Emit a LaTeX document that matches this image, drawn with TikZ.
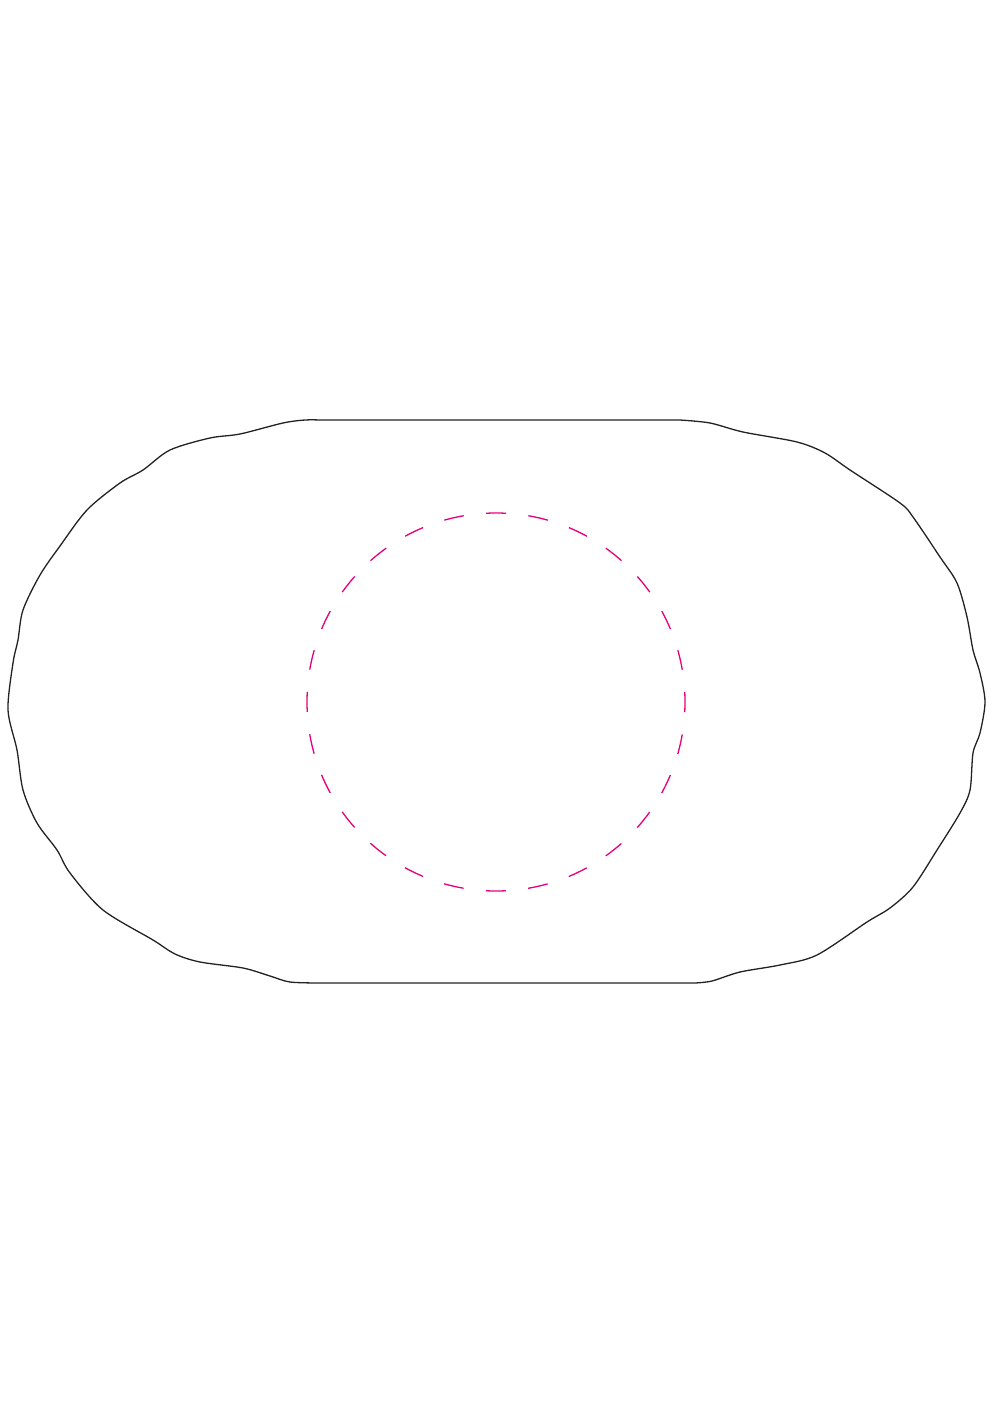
\documentclass[tikz,border=0pt]{standalone}
\definecolor{outl}{HTML}{222222}
\definecolor{mag}{HTML}{E6007E}
\begin{document}
\begin{tikzpicture}[x=1pt,y=-1pt,
  outline/.style={draw=outl,line width=1.3pt,line join=round},
  ring/.style={draw=mag,line width=1.3pt,dash pattern=on 20pt off 22.41pt,dash phase=10pt}]
\useasboundingbox (0,0) rectangle (993,1404);
\draw[outline] (320,420) -- (680,420)
 -- plot[smooth,tension=0.5] coordinates {
 (680,420) (710,423) (743,432) (797,442) (825,453) (850,470) (900,503) (913,517)
 (940,557) (957,583) (967,617) (973,650) (980,673) (985,702)
 (980,733) (973,753) (970,790) (960,813) (937,850) (913,887)
 (890,908) (867,922) (817,955) (780,965) (740,972) (712,981) (695,983)}
 -- (320,983)
 -- plot[smooth,tension=0.5] coordinates {
 (320,983) (290,982) (270,976) (243,968) (200,962) (175,954) (153,940) (103,910)
 (70,873) (57,850) (37,823) (23,790) (17,750) (8,710)
 (13,663) (18,640) (23,610) (40,575) (60,546) (87,510)
 (120,483) (143,470) (170,450) (210,438) (240,434) (283,423) (305,420) (320,420)}
 -- cycle;
\node[circle,minimum size=378pt,inner sep=0pt,ring] (c) at (496,702) {};
\end{tikzpicture}
\end{document}
